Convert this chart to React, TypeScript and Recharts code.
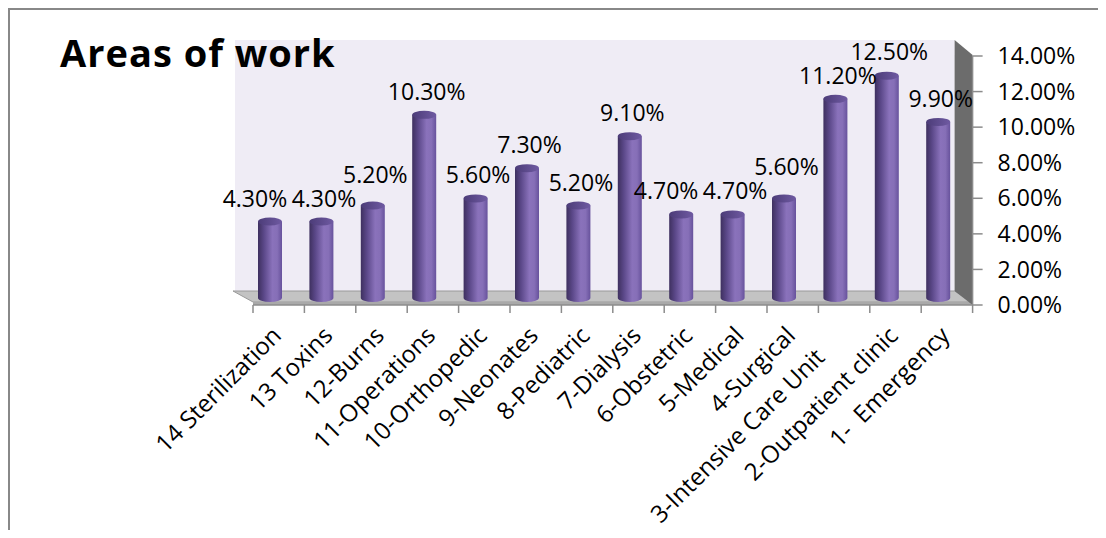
import { BarChart, Bar, XAxis, YAxis, LabelList, ReferenceArea } from 'recharts'

const categories = [
  '14 Sterilization',
  '13 Toxins',
  '12-Burns',
  '11-Operations',
  '10-Orthopedic',
  '9-Neonates',
  '8-Pediatric',
  '7-Dialysis',
  '6-Obstetric',
  '5-Medical',
  '4-Surgical',
  '3-Intensive Care Unit     ',
  '2-Outpatient clinic',
  '1-  Emergency',
]

const shares = [4.3, 4.3, 5.2, 10.3, 5.6, 7.3, 5.2, 9.1, 4.7, 4.7, 5.6, 11.2, 12.5, 9.9]

const yTicks = [0, 2, 4, 6, 8, 10, 12, 14]

const title = 'Areas of work'

const data = categories.map((name, i) => ({ name, value: shares[i] }))

const FONT = "'Open Sans', sans-serif"
const CHART_W = 1098
const CHART_H = 522
const MARGIN = { top: 48, right: 23.4, left: 245, bottom: 65 }
const Y_AXIS_W = 110
const BAND = (CHART_W - MARGIN.left - MARGIN.right - Y_AXIS_W) / categories.length
const LABEL_SIZE = 23
// fake 3D depth of the plot box
const DEPTH_X = 18
const DEPTH_Y = 14

const fmt = (v: number) => `${v.toFixed(2)}%`
const textWidth = (s: string) =>
  [...s].reduce((w, c) => w + (c === '.' ? 0.27 : c === '%' ? 0.84 : 0.572), 0) * LABEL_SIZE

function PlotBox(props: any) {
  const { x, y, width, height } = props
  const bx = x - DEPTH_X
  const by = y - DEPTH_Y - 2
  const bottom = y + height
  const n = categories.length
  return (
    <g>
      {/* back wall */}
      <rect x={bx} y={by} width={width} height={bottom - DEPTH_Y - by} fill="#efecf5" />
      {/* floor */}
      <polygon
        points={`${bx - 2},${bottom - DEPTH_Y} ${bx + width},${bottom - DEPTH_Y} ${x + width},${bottom - 3} ${x},${bottom - 3}`}
        fill="#c3c3c3"
        stroke="#9a9a9a"
        strokeWidth={1}
      />
      <rect x={x} y={bottom - 3} width={width} height={3} fill="#a9a9a9" />
      {/* side wall */}
      <polygon
        points={`${bx + width},${by} ${x + width},${y - 1} ${x + width},${bottom} ${bx + width},${bottom - DEPTH_Y}`}
        fill="#6c6c6c"
      />
      {/* category boundary ticks */}
      {Array.from({ length: n + 1 }, (_, i) => (
        <line
          key={i}
          x1={x + (i * width) / n}
          x2={x + (i * width) / n}
          y1={bottom}
          y2={bottom + 8}
          stroke="#8c8c8c"
          strokeWidth={1.5}
        />
      ))}
    </g>
  )
}

function Cylinder(props: any) {
  const { x, y, width, height } = props
  if (width == null || height == null) return null
  const rx = width / 2
  const ry = 4
  const left = x - DEPTH_X / 2
  const right = left + width
  const top = y - DEPTH_Y / 2
  const base = y + height - DEPTH_Y / 2
  return (
    <g>
      <path
        d={`M${left},${top} L${left},${base} A${rx},${ry} 0 0 0 ${right},${base} L${right},${top} Z`}
        fill="url(#cylBody)"
      />
      <ellipse cx={left + rx} cy={top} rx={rx} ry={ry} fill="url(#cylTop)" />
    </g>
  )
}

// simple collision handling: equal neighbours push the left label sideways,
// close neighbours lift the right label
function ValueLabel(props: any) {
  const { x, y, width, height, value, index } = props
  const px = value ? height / value : 0
  let dx = 0
  let dy = 0
  const next = shares[index + 1]
  if (next != null && Math.abs(next - value) * px < 12) {
    const overlap = (textWidth(fmt(value)) + textWidth(fmt(next))) / 2 - BAND
    if (overlap > 0) dx = -(overlap + 4)
  }
  const prev = shares[index - 1]
  if (prev != null) {
    const sep = (value - prev) * px
    if (sep >= 12 && sep < 24) dy = -(24 - sep)
  }
  return (
    <text
      x={x + width / 2 - 6.5 + dx}
      y={y - 22 + dy}
      textAnchor="middle"
      fontFamily={FONT}
      fontSize={LABEL_SIZE}
      fill="#000"
    >
      {fmt(value)}
    </text>
  )
}

function CategoryTick(props: any) {
  const { x, y, payload } = props
  const ax = x + 4
  return (
    <text
      x={ax}
      y={y}
      transform={`rotate(-45, ${ax}, ${y})`}
      textAnchor="end"
      fontFamily={FONT}
      fontSize={24}
      fill="#000"
      style={{ whiteSpace: 'pre' }}
    >
      {payload.value}
    </text>
  )
}

export default function App() {
  return (
    <div style={{ position: 'relative', width: CHART_W, height: CHART_H }}>
      <style>{'.recharts-surface{overflow:visible}'}</style>
      <BarChart width={CHART_W} height={CHART_H} data={data} margin={MARGIN}>
        <defs>
          <linearGradient id="cylBody" x1="0" y1="0" x2="1" y2="0">
            <stop offset="0%" stopColor="#3e305f" />
            <stop offset="25%" stopColor="#5b4889" />
            <stop offset="60%" stopColor="#8a72bb" />
            <stop offset="80%" stopColor="#866fb7" />
            <stop offset="100%" stopColor="#67529c" />
          </linearGradient>
          <linearGradient id="cylTop" x1="0" y1="0" x2="1" y2="0">
            <stop offset="0%" stopColor="#4c3c78" />
            <stop offset="100%" stopColor="#6f5aa2" />
          </linearGradient>
        </defs>
        <ReferenceArea
          x1={categories[0]}
          x2={categories[categories.length - 1]}
          y1={0}
          y2={14}
          ifOverflow="visible"
          shape={<PlotBox />}
        />
        <XAxis
          dataKey="name"
          type="category"
          interval={0}
          height={160}
          tickLine={false}
          tickSize={0}
          tickMargin={32}
          axisLine={{ stroke: '#8c8c8c', strokeWidth: 1.5 }}
          tick={<CategoryTick />}
        />
        <YAxis
          orientation="right"
          domain={[0, 14]}
          ticks={yTicks}
          width={Y_AXIS_W}
          tickSize={10}
          tickMargin={15}
          tickFormatter={fmt}
          axisLine={{ stroke: '#8c8c8c', strokeWidth: 1.5 }}
          tickLine={{ stroke: '#8c8c8c', strokeWidth: 1.5 }}
          tick={{ fill: '#000', fontSize: LABEL_SIZE, fontFamily: FONT }}
        />
        <Bar dataKey="value" barSize={24} shape={<Cylinder />} isAnimationActive={false}>
          <LabelList dataKey="value" content={<ValueLabel />} />
        </Bar>
      </BarChart>
      <svg
        width={CHART_W}
        height={CHART_H}
        style={{ position: 'absolute', left: 0, top: 0, pointerEvents: 'none' }}
      >
        {/* outer frame (top and left edges only, as in the source) */}
        <line x1={0} y1={1} x2={CHART_W} y2={1} stroke="#888" strokeWidth={2} />
        <line x1={1} y1={0} x2={1} y2={CHART_H} stroke="#888" strokeWidth={2} />
        <text
          x={52}
          y={59}
          fontFamily={FONT}
          fontWeight={700}
          fontSize={38}
          letterSpacing={1}
          fill="#000"
        >
          {title}
        </text>
      </svg>
    </div>
  )
}
